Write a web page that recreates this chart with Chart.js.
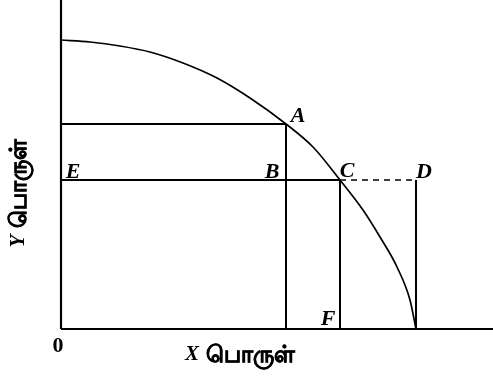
<!DOCTYPE html>
<html>
<head>
<meta charset="utf-8">
<script src="https://cdn.jsdelivr.net/npm/chart.js@4.4.1/dist/chart.umd.min.js"></script>
<style>
  html, body { margin: 0; padding: 0; background: #fff; }
  #wrap { width: 493px; height: 378px; position: relative; }
</style>
</head>
<body>
<div id="wrap"><canvas id="ppc"></canvas></div>
<script>
// Production possibility curve
const curveX = [0, 29, 59, 89, 122, 156, 189, 225, 252, 279, 302, 319, 336, 349, 355];
const curveY = [289, 287, 283, 277, 266, 251, 231, 205, 182, 149, 119, 92, 62, 29, 0];

// Points on the diagram
const pointA = { x: 225, y: 205 };
const pointC = { x: 279, y: 149 };
const pointD = { x: 355, y: 149 };

const axisMaxX = 432;
const axisMaxY = 329;

const xLetter = 'X';
const yLetter = 'Y';
const goodsWord = 'பொருள்';
const originLabel = '0';

const ink = '#000';

const toPts = (xs, ys) => xs.map((x, i) => ({ x: x, y: ys[i] }));
const seg = (a, b) => [a, b];

const lineSet = (data, extra) => Object.assign({
    data: data,
    borderColor: ink,
    borderWidth: 2,
    pointRadius: 0,
    fill: false,
    clip: false,
    tension: 0
}, extra || {});

const datasets = [
    lineSet(toPts(curveX, curveY), { borderWidth: 1.7, cubicInterpolationMode: 'monotone' }),
    // axes
    lineSet(seg({ x: 0, y: 0 }, { x: 0, y: axisMaxY }), { borderWidth: 2.2 }),
    lineSet(seg({ x: 0, y: 0 }, { x: axisMaxX, y: 0 }), { borderWidth: 2.2 }),
    // A
    lineSet(seg({ x: 0, y: pointA.y }, pointA)),
    lineSet(seg(pointA, { x: pointA.x, y: 0 })),
    // E - B - C
    lineSet(seg({ x: 0, y: pointC.y }, pointC)),
    lineSet(seg(pointC, { x: pointC.x, y: 0 })),
    // C - D dashed
    lineSet(seg(pointC, pointD), { borderDash: [6, 5], borderWidth: 1.6 }),
    lineSet(seg(pointD, { x: pointD.x, y: 0 }))
];

// letters placed next to the diagram points
const letters = [
    { t: 'A', x: pointA.x, y: pointA.y, dx: 12, dy: -8 },
    { t: 'B', x: pointA.x, y: pointC.y, dx: -14, dy: -8 },
    { t: 'C', x: pointC.x, y: pointC.y, dx: 7, dy: -9 },
    { t: 'D', x: pointD.x, y: pointD.y, dx: 8, dy: -8 },
    { t: 'E', x: 0, y: pointC.y, dx: 12, dy: -8 },
    { t: 'F', x: pointC.x, y: 0, dx: -12, dy: -10 }
];

// draws "X பொருள்" style title centred at 0,0 of current transform
function drawTitle(ctx, letter) {
    const letterFont = 'italic bold 21px "Liberation Serif", serif';
    const wordFont = 'bold 23px "Noto Sans", sans-serif';
    ctx.font = letterFont;
    const lw = ctx.measureText(letter).width;
    ctx.font = wordFont;
    const ww = ctx.measureText(goodsWord).width;
    const gap = 7;
    const start = -(lw + gap + ww) / 2;
    ctx.textAlign = 'left';
    ctx.font = letterFont;
    ctx.fillText(letter, start, 0);
    ctx.font = wordFont;
    ctx.fillText(goodsWord, start + lw + gap, 0);
    // the tamil face has no bold, thicken it a little by hand
    ctx.lineWidth = 0.6;
    ctx.strokeStyle = ink;
    ctx.strokeText(goodsWord, start + lw + gap, 0);
}

const labelPlugin = {
    id: 'labels',
    afterDraw(chart) {
        const ctx = chart.ctx;
        const xs = chart.scales.x, ys = chart.scales.y;
        ctx.save();
        ctx.fillStyle = ink;
        ctx.textAlign = 'center';
        ctx.textBaseline = 'middle';
        ctx.font = 'italic bold 22px "Liberation Serif", serif';
        letters.forEach(l => {
            ctx.fillText(l.t, xs.getPixelForValue(l.x) + l.dx, ys.getPixelForValue(l.y) + l.dy);
        });

        const x0 = xs.getPixelForValue(0), y0 = ys.getPixelForValue(0);
        ctx.font = 'bold 22px "Liberation Serif", serif';
        ctx.fillText(originLabel, x0 - 3, y0 + 17);

        ctx.save();
        ctx.translate(240, 355);
        drawTitle(ctx, xLetter);
        ctx.restore();

        ctx.translate(19, 193);
        ctx.rotate(-Math.PI / 2);
        drawTitle(ctx, yLetter);
        ctx.restore();
    }
};

new Chart(document.getElementById('ppc'), {
    type: 'line',
    data: { datasets: datasets },
    options: {
        responsive: true,
        maintainAspectRatio: false,
        animation: false,
        layout: { padding: { left: 61, right: 0, top: 0, bottom: 49 } },
        plugins: { legend: { display: false }, tooltip: { enabled: false } },
        scales: {
            x: { type: 'linear', min: 0, max: axisMaxX, display: false },
            y: { type: 'linear', min: 0, max: axisMaxY, display: false }
        }
    },
    plugins: [labelPlugin]
});
</script>
</body>
</html>
